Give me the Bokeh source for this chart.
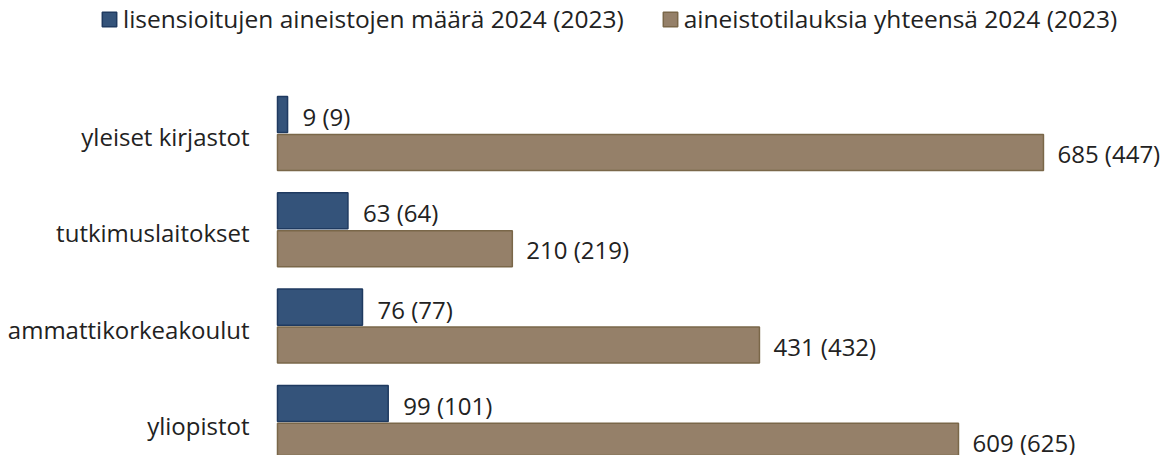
from bokeh.plotting import figure
from bokeh.models import ColumnDataSource, Range1d, Legend, LegendItem
from bokeh.transform import dodge
from bokeh.core.properties import value
from bokeh.embed import file_html
from bokeh.resources import INLINE

# ---- data ----
categories = ["yleiset kirjastot", "tutkimuslaitokset", "ammattikorkeakoulut", "yliopistot"]
licensed_2024 = [9, 63, 76, 99]
licensed_2023 = [9, 64, 77, 101]
orders_2024 = [685, 210, 431, 609]
orders_2023 = [447, 219, 432, 625]
legend_labels = ["lisensioitujen aineistojen määrä 2024 (2023)",
                 "aineistotilauksia yhteensä 2024 (2023)"]

# ---- layout constants ----
W, H = 1167, 455
PX_PER_UNIT = 1.1182      # horizontal scale
ZERO_PX = 277             # x=0 position inside figure
ROW_PX = 96.3             # group spacing
FIRST_ROW_PX = 133        # centre of first group
FONT = "Open Sans"
FS = "24px"
TXT = "#222222"
BLUE, BLUE_LINE = "#34537a", "#1f3a60"
TAN, TAN_LINE = "#958069", "#7a6749"
OFF = 0.197
BAR_H = 0.374

x_range = Range1d(-ZERO_PX / PX_PER_UNIT, (W - ZERO_PX) / PX_PER_UNIT)
y_range = Range1d((H - FIRST_ROW_PX) / ROW_PX, -FIRST_ROW_PX / ROW_PX)

src = ColumnDataSource(dict(
    pos=list(range(len(categories))),
    cat=categories,
    lic=licensed_2024,
    ordr=orders_2024,
    lic_lbl=[f"{a} ({b})" for a, b in zip(licensed_2024, licensed_2023)],
    ord_lbl=[f"{a} ({b})" for a, b in zip(orders_2024, orders_2023)],
))

p = figure(width=W, height=H, x_range=x_range, y_range=y_range,
           output_backend="svg", toolbar_location=None,
           x_axis_location=None, y_axis_location=None,
           min_border=0, outline_line_color=None)
p.grid.visible = False

r1 = p.hbar(y=dodge("pos", -OFF), left=0, right="lic", height=BAR_H,
            fill_color=BLUE, line_color=BLUE_LINE, line_width=1.5, source=src)
r2 = p.hbar(y=dodge("pos", OFF), left=0, right="ordr", height=BAR_H,
            fill_color=TAN, line_color=TAN_LINE, line_width=1.5, source=src)

common = dict(text_font=value(FONT), text_font_size=FS, text_color=TXT,
              text_baseline="middle", source=src)
p.text(x="lic", y=dodge("pos", -OFF), text="lic_lbl", x_offset=15, y_offset=2, **common)
p.text(x="ordr", y=dodge("pos", OFF), text="ord_lbl", x_offset=14, y_offset=1, **common)
p.text(x=0, y="pos", text="cat", x_offset=-28, y_offset=3, text_align="right", **common)

legend = Legend(items=[LegendItem(label=legend_labels[0], renderers=[r1]),
                       LegendItem(label=legend_labels[1], renderers=[r2])],
                orientation="horizontal", location=(100, 420),
                glyph_width=18, glyph_height=18, label_height=18,
                label_standoff=5, spacing=37, padding=0, margin=0,
                border_line_alpha=0, background_fill_alpha=0,
                label_text_font=FONT, label_text_font_size="24.5px",
                label_text_color=TXT)
p.add_layout(legend)

open("out.html", "w").write(file_html(p, INLINE))
